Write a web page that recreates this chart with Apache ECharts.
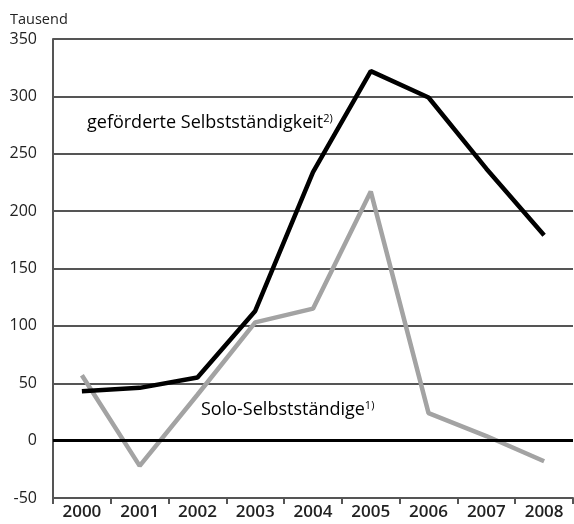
<!DOCTYPE html>
<html><head><meta charset="utf-8">
<script src="https://cdn.jsdelivr.net/npm/echarts@6/dist/echarts.min.js"></script>
<style>html,body{margin:0;padding:0;background:#fff}#c{width:574px;height:524px}</style>
</head><body><div id="c"></div>
<script>
const years = ['2000','2001','2002','2003','2004','2005','2006','2007','2008'];
const gefoerderte = [43, 46, 55, 113, 234, 322, 299, 237, 179];
const solo = [57, -22, 40, 103, 115, 217, 24, 4, -18];
const yTicks = [-50, 0, 50, 100, 150, 200, 250, 300, 350];
const FONT = 'Open Sans';
const chart = echarts.init(document.getElementById('c'));
chart.setOption({
  animation: false,
  grid: {left: 53, right: 1, top: 39, bottom: 26},
  xAxis: {
    type: 'category', data: years, boundaryGap: true,
    axisLine: {show: true, onZero: false, lineStyle: {color: '#555', width: 2}},
    axisTick: {show: true, length: 6, lineStyle: {color: '#555', width: 2}},
    axisLabel: {color: '#222', fontFamily: FONT, fontSize: 17, fontWeight: 600, margin: 6}
  },
  yAxis: {
    type: 'value', min: yTicks[0], max: yTicks[yTicks.length-1], interval: 50,
    axisLine: {show: true, lineStyle: {color: '#555', width: 2}},
    axisTick: {show: false},
    axisLabel: {color: '#222', fontFamily: FONT, fontSize: 16, margin: 16},
    splitLine: {show: true, lineStyle: {color: '#555', width: 2}}
  },
  graphic: [
    {type: 'text', left: 10, top: 12, style: {text: 'Tausend', fontFamily: FONT, fontSize: 14.5, fill: '#222'}},
    {type: 'text', left: 87, top: 113, style: {
      text: '{a|geförderte Selbstständigkeit}{s|2)}',
      rich: {a: {fontFamily: FONT, fontSize: 18, color: '#222'},
             s: {fontFamily: FONT, fontSize: 11, color: '#222', verticalAlign: 'top', padding: [0,0,9,0]}}}},
    {type: 'text', left: 201, top: 400, style: {
      text: '{a|Solo-Selbstständige}{s|1)}',
      rich: {a: {fontFamily: FONT, fontSize: 18, color: '#222'},
             s: {fontFamily: FONT, fontSize: 11, color: '#222', verticalAlign: 'top', padding: [0,0,9,0]}}}}
  ],
  series: [
    {type: 'line', data: yTicks.map(()=>null), markLine: {silent: true, symbol: 'none', label: {show: false},
      lineStyle: {color: '#000', width: 3, type: 'solid'}, data: [{yAxis: 0}]}},
    {type: 'line', data: solo, symbol: 'none', lineStyle: {color: '#a3a3a3', width: 4.5}, z: 3},
    {type: 'line', data: gefoerderte, symbol: 'none', lineStyle: {color: '#000', width: 4.5}, z: 4}
  ]
});
</script></body></html>
